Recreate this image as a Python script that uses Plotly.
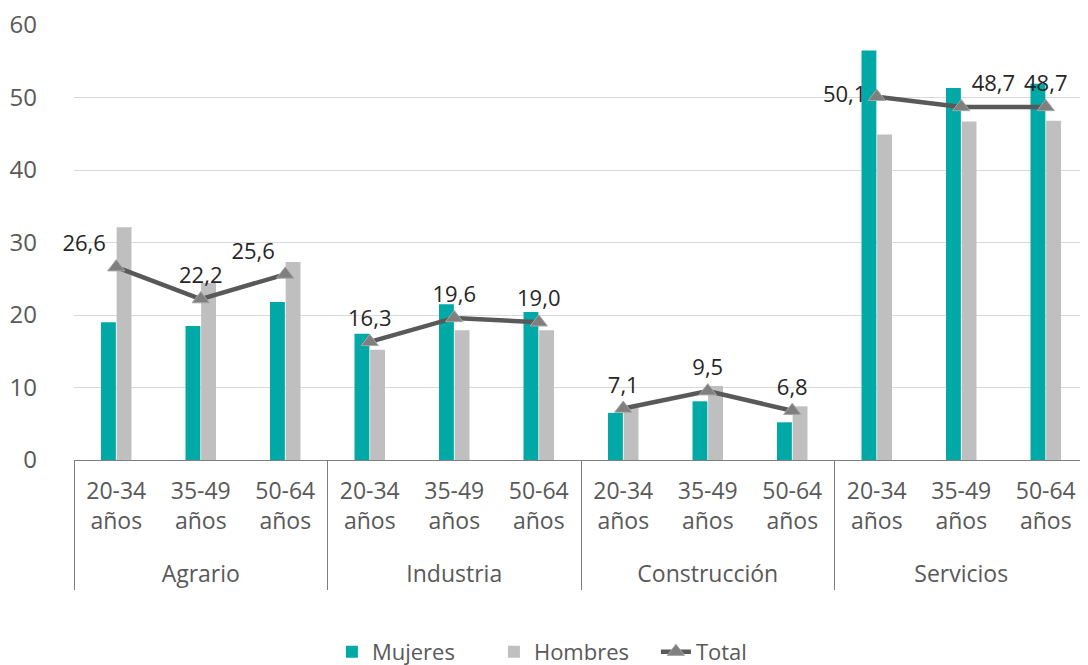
import plotly.graph_objects as go

sectors = ["Agrario", "Industria", "Construcción", "Servicios"]
ages = ["20-34<br>años", "35-49<br>años", "50-64<br>años"]

mujeres = [19.0, 18.5, 21.8, 17.4, 21.5, 20.4, 6.5, 8.1, 5.2, 56.5, 51.3, 51.9]
hombres = [32.1, 24.4, 27.3, 15.2, 17.9, 17.9, 7.3, 10.2, 7.4, 44.9, 46.7, 46.8]
total = [26.6, 22.2, 25.6, 16.3, 19.6, 19.0, 7.1, 9.5, 6.8, 50.1, 48.7, 48.7]
total_pos = ["top left", "top center", "top left", "top center", "top center", "top center",
             "top center", "top center", "top center", "middle left", "top right", "top center"]

# group labels drawn one line lower, as in the reference
x_outer = ["<br>" + s for s in sectors for _ in ages]
x_inner = [a for _ in sectors for a in ages]
x = [x_outer, x_inner]

FONT = "Open Sans"
fig = go.Figure()
fig.add_trace(go.Bar(x=x, y=mujeres, name="Mujeres", marker=dict(color="#00A9A5", line=dict(width=0))))
fig.add_trace(go.Bar(x=x, y=hombres, name="Hombres", marker=dict(color="#BFBFBF", line=dict(width=0))))

n = len(ages)
for gi, sec in enumerate(sectors):
    sl = slice(gi * n, (gi + 1) * n)
    vals = total[sl]
    fig.add_trace(go.Scatter(
        x=[x_outer[sl], x_inner[sl]], y=vals, name="Total", legendgroup="total",
        showlegend=(gi == 0), mode="lines+markers+text", cliponaxis=False,
        line=dict(color="#595959", width=4.5),
        marker=dict(symbol="triangle-up", size=15, color="#7F7F7F", line=dict(color="#A6A6A6", width=1)),
        text=[f"{v:.1f}".replace(".", ",") for v in vals],
        textposition=total_pos[sl],
        textfont=dict(size=22, color="#262626", family=FONT),
    ))

# the page adds an 8px offset on the left/top, so the plot area is laid out 8px up/left
fig.update_layout(
    width=1088, height=665,
    margin=dict(l=66, r=8, t=17, b=213, autoexpand=False),
    paper_bgcolor="white", plot_bgcolor="white",
    barmode="group", bargap=0.63, bargroupgap=0.05,
    font=dict(family=FONT, size=22, color="#595959"),
    legend=dict(orientation="h", x=0.494, xanchor="center", y=-0.441, yanchor="middle",
                font=dict(size=22, color="#595959"), entrywidth=117, entrywidthmode="pixels",
                tracegroupgap=0),
    showlegend=True,
)
fig.update_yaxes(range=[0, 60.001], dtick=10, tick0=0, showgrid=True, gridcolor="#D9D9D9", gridwidth=1,
                 zeroline=False, showline=False, ticklabelstandoff=36, automargin=False,
                 ticklabeloverflow="allow", tickfont=dict(size=24, color="#595959"))
fig.update_xaxes(type="multicategory", range=[-0.5, 11.5], showline=True, linecolor="#7F7F7F", linewidth=1,
                 showdividers=True, dividercolor="#7F7F7F", dividerwidth=1, ticklabelstandoff=10,
                 automargin=False, tickfont=dict(size=23, color="#595959"), showgrid=False)

fig.write_html("out.html")
